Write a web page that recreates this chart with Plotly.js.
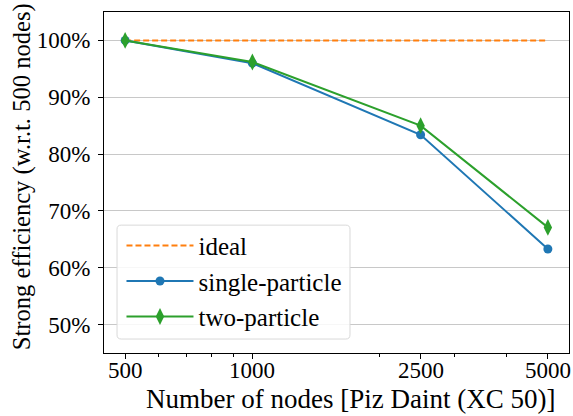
<!DOCTYPE html>
<html>
<head>
<meta charset="utf-8">
<script src="https://cdn.plot.ly/plotly-3.0.1.min.js"></script>
<style>html,body{margin:0;padding:0;background:#fff;}#chart{width:573px;height:416px;}</style>
</head>
<body>
<div id="chart"></div>
<script>
const nodes = [500, 1000, 2500, 5000];
const idealNodes = [500, 5000];
const idealEff = [100, 100];
const singleParticle = [100, 96.0, 83.4, 63.3];
const twoParticle = [100, 96.2, 85.0, 67.1];
const yTicks = [50, 60, 70, 80, 90, 100];
const xTicks = [500, 1000, 2500, 5000];
const xTickLabels = ['500', '1000', '2500', '5000'];
const xMinor = [600, 700, 800, 900, 2000, 3000, 4000];
const xTitle = 'Number of nodes [Piz Daint (XC 50)]';
const yTitle = 'Strong efficiency (w.r.t. 500 nodes)';

const FONT = "'Liberation Serif', 'DejaVu Serif', serif";

const traces = [
  {x: idealNodes, y: idealEff, name: 'ideal', mode: 'lines', legendgroup: 'a',
   line: {color: '#ff7f0e', width: 2, dash: '6px,3px'}},
  {x: nodes, y: singleParticle, name: 'single-particle', mode: 'lines+markers', legendgroup: 'b',
   line: {color: '#1f77b4', width: 2}, marker: {symbol: 'circle', size: 9, color: '#1f77b4'}},
  {x: nodes, y: twoParticle, name: 'two-particle', mode: 'lines+markers', legendgroup: 'c',
   line: {color: '#2ca02c', width: 2}, marker: {symbol: 'diamond-tall', size: 12, color: '#2ca02c'}}
];

const lx0 = 0.028, lx1 = 0.529, ly0 = 0.041, ly1 = 0.375, rx = 0.009, ry = 0.012;
const boxPath = `M${lx0+rx},${ly0} L${lx1-rx},${ly0} Q${lx1},${ly0} ${lx1},${ly0+ry} L${lx1},${ly1-ry} Q${lx1},${ly1} ${lx1-rx},${ly1} L${lx0+rx},${ly1} Q${lx0},${ly1} ${lx0},${ly1-ry} L${lx0},${ly0+ry} Q${lx0},${ly0} ${lx0+rx},${ly0} Z`;

const tickAnnotations = xTicks.map((v, i) => ({
  text: xTickLabels[i], xref: 'x', yref: 'paper', x: Math.log10(v), y: -0.05,
  xanchor: 'center', yanchor: 'middle', showarrow: false,
  font: {family: FONT, size: 23, color: '#000'}
}));

const layout = {
  width: 573, height: 416,
  margin: {l: 104, r: 4, t: 12, b: 63},
  paper_bgcolor: '#fff', plot_bgcolor: '#fff',
  font: {family: FONT, color: '#000', size: 22},
  showlegend: true,
  legend: {
    x: 0.0376, y: 0.382, xanchor: 'left', yanchor: 'top',
    bgcolor: 'rgba(0,0,0,0)', borderwidth: 0,
    font: {family: FONT, size: 25, color: '#000'},
    tracegroupgap: 0, itemwidth: 67
  },
  xaxis: {
    type: 'log', range: [Math.log10(500) - 0.05, Math.log10(5000) + 0.05],
    tickmode: 'array', tickvals: xTicks, showticklabels: false,
    ticks: 'outside', ticklen: 5, tickwidth: 1, tickcolor: '#000',
    minor: {tickmode: 'array', tickvals: xMinor, ticks: 'outside', ticklen: 3, tickwidth: 1, tickcolor: '#000', showgrid: false},
    showgrid: false, zeroline: false,
    showline: true, mirror: true, linecolor: '#000', linewidth: 1,
    automargin: false
  },
  yaxis: {
    range: [45, 105],
    tickmode: 'array', tickvals: yTicks, ticktext: yTicks.map(v => v + '%'),
    ticks: 'outside', ticklen: 5, tickwidth: 1, tickcolor: '#000', ticklabelstandoff: 3,
    showgrid: true, gridcolor: '#c8c8c8', gridwidth: 1, zeroline: false,
    showline: true, mirror: true, linecolor: '#000', linewidth: 1,
    tickfont: {family: FONT, size: 23, color: '#000'},
    automargin: false
  },
  annotations: tickAnnotations.concat([
    {text: xTitle, xref: 'paper', yref: 'paper', x: 0.531, y: -0.1848, xanchor: 'center', yanchor: 'bottom',
     showarrow: false, font: {family: FONT, size: 27, color: '#000'}},
    {text: yTitle, xref: 'paper', yref: 'paper', x: -0.176, y: 0.516, xanchor: 'center', yanchor: 'middle',
     textangle: -90, showarrow: false, font: {family: FONT, size: 24.6, color: '#000'}}
  ]),
  shapes: [
    {type: 'path', xref: 'paper', yref: 'paper', path: boxPath, layer: 'above',
     fillcolor: 'rgba(255,255,255,0.85)', line: {color: '#d9d9d9', width: 1}}
  ]
};

Plotly.newPlot('chart', traces, layout, {displayModeBar: false, staticPlot: true});
</script>
</body>
</html>
